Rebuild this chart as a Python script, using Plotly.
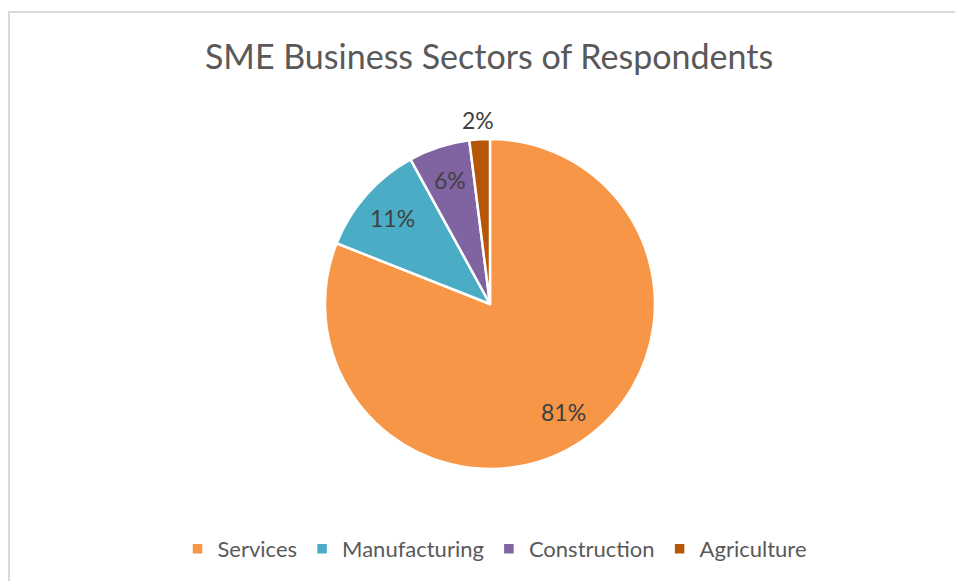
import math
import plotly.graph_objects as go

# Sector shares of surveyed SMEs (percent)
sectors = ["Services", "Manufacturing", "Construction", "Agriculture"]
shares = [81, 11, 6, 2]
colors = ["#F79646", "#4BACC6", "#8064A2", "#B65708"]
label_outside = [False, False, False, True]

W, H = 955, 581
cx, cy, r = 490, 304, 165
FONT = "Lato, Open Sans, sans-serif"

fig = go.Figure(
    go.Pie(
        labels=sectors,
        values=shares,
        sort=False,
        direction="clockwise",
        rotation=0,
        marker=dict(colors=colors, line=dict(color="white", width=2.5)),
        textinfo="none",
        hoverinfo="label+percent",
        domain=dict(
            x=[(cx - r) / W, (cx + r) / W],
            y=[1 - (cy + r) / H, 1 - (cy - r) / H],
        ),
        showlegend=True,
    )
)

# Percentage labels placed along each slice's bisector
total = sum(shares)
annotations = []
cum = 0.0
for val, outside in zip(shares, label_outside):
    mid = (cum + val / 2) / total * 2 * math.pi
    cum += val
    rf = 1.12 if outside else 0.79
    px = cx + rf * r * math.sin(mid)
    py = cy - rf * r * math.cos(mid)
    annotations.append(
        dict(
            x=px / W,
            y=1 - py / H,
            xref="paper",
            yref="paper",
            text=f"{val}%",
            showarrow=False,
            xanchor="center",
            yanchor="middle",
            font=dict(family=FONT, size=23, color="#404040"),
        )
    )

fig.update_layout(
    width=W,
    height=H,
    margin=dict(l=0, r=0, t=0, b=0),
    paper_bgcolor="white",
    plot_bgcolor="white",
    title=dict(
        text="SME Business Sectors of Respondents",
        x=489 / W,
        xanchor="center",
        y=1 - 57 / H,
        yanchor="middle",
        font=dict(family=FONT, size=34, color="#595959"),
    ),
    legend=dict(
        orientation="h",
        x=495 / W,
        xanchor="center",
        y=1 - 549 / H,
        yanchor="middle",
        font=dict(family=FONT, size=22, color="#595959"),
        itemwidth=30,
        traceorder="normal",
    ),
    annotations=annotations,
    shapes=[
        dict(
            type="rect",
            xref="paper",
            yref="paper",
            x0=9 / W,
            x1=1.01,
            y0=-0.01,
            y1=1 - 12 / H,
            line=dict(color="#D9D9D9", width=2),
            fillcolor="rgba(0,0,0,0)",
            layer="below",
        )
    ],
)

fig.write_html("out.html")
